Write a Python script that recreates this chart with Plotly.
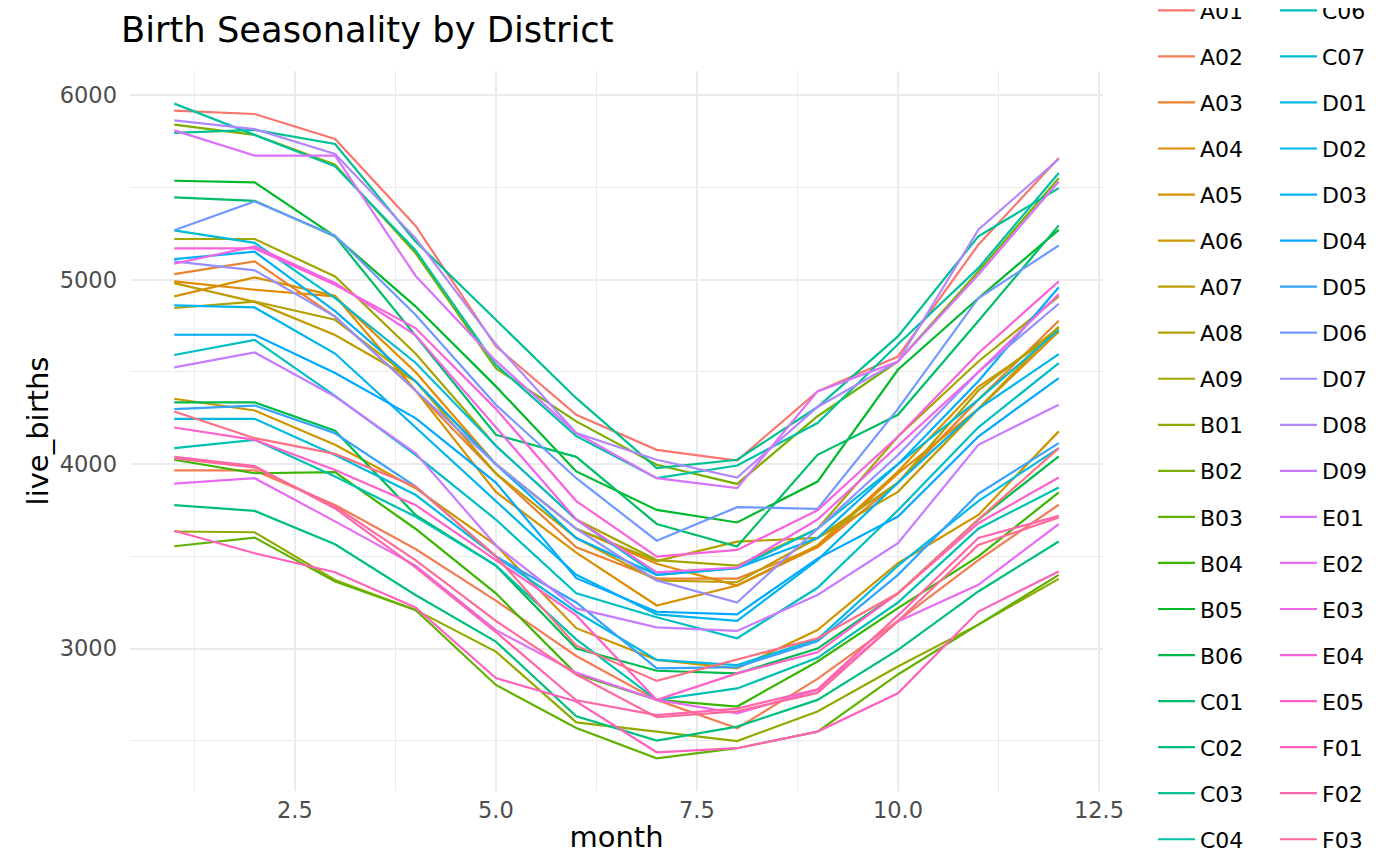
import math
import plotly.graph_objects as go

months = list(range(1, 13))

A01 = [5917, 5899, 5763, 5293, 4639, 4268, 4078, 4020, 4395, 4584, 5190, 5660]
A02 = [3966, 3966, 3779, 3540, 3260, 2960, 2722, 2568, 2836, 3150, 3480, 3780]
A03 = [5031, 5100, 4800, 4400, 3950, 3550, 3380, 3380, 3550, 3900, 4350, 4778]
A04 = [4991, 4946, 4910, 4500, 4000, 3650, 3460, 3342, 3550, 3950, 4300, 4720]
A05 = [4910, 5013, 4913, 4400, 3850, 3520, 3234, 3342, 3560, 3960, 4420, 4716]
A06 = [4355, 4291, 4105, 3870, 3560, 3111, 2939, 2893, 3101, 3463, 3725, 4178]
A07 = [4982, 4880, 4700, 4450, 3950, 3600, 3370, 3360, 3600, 3850, 4300, 4747]
A08 = [4847, 4882, 4783, 4450, 4000, 3650, 3475, 3580, 3600, 3900, 4400, 4740]
A09 = [5221, 5221, 5018, 4600, 4100, 3700, 3480, 3450, 3650, 4150, 4557, 4910]
B01 = [3635, 3631, 3372, 3210, 2984, 2600, 2550, 2499, 2659, 2903, 3130, 3378]
B02 = [5841, 5786, 5624, 5145, 4520, 4232, 3997, 3893, 4260, 4557, 5045, 5551]
B03 = [3555, 3602, 3364, 3210, 2803, 2570, 2405, 2460, 2550, 2860, 3130, 3400]
B04 = [4024, 3951, 3957, 3650, 3300, 2862, 2722, 2686, 2930, 3220, 3500, 3847]
B05 = [5537, 5528, 5235, 4856, 4422, 3961, 3752, 3684, 3906, 4512, 4900, 5271]
B06 = [4335, 4335, 4181, 3725, 3450, 3000, 2880, 2866, 3000, 3300, 3700, 4042]
C01 = [5447, 5428, 5235, 4700, 4160, 4040, 3676, 3554, 4051, 4268, 4776, 5295]
C02 = [3778, 3747, 3566, 3291, 3038, 2633, 2501, 2577, 2722, 2993, 3310, 3581]
C03 = [5796, 5813, 5736, 5208, 4783, 4358, 3979, 4024, 4310, 4693, 5235, 5497]
C04 = [5955, 5786, 5615, 5160, 4539, 4152, 3924, 3993, 4223, 4650, 5063, 5579]
C05 = [4087, 4132, 3933, 3716, 3450, 3050, 2722, 2784, 2950, 3250, 3650, 3874]
C06 = [4592, 4674, 4370, 4050, 3700, 3300, 3170, 3056, 3330, 3750, 4200, 4548]
C07 = [5268, 5200, 4900, 4550, 4100, 3700, 3400, 3436, 3650, 4000, 4350, 4729]
D01 = [4246, 4246, 4050, 3834, 3500, 3200, 2939, 2911, 3050, 3450, 3800, 4087]
D02 = [4861, 4850, 4600, 4200, 3800, 3400, 3186, 3150, 3480, 3900, 4300, 4597]
D03 = [5112, 5152, 4830, 4450, 4000, 3600, 3400, 3436, 3600, 4000, 4450, 4959]
D04 = [4702, 4702, 4494, 4250, 3900, 3382, 3200, 3186, 3488, 3716, 4150, 4467]
D05 = [4299, 4318, 4168, 3880, 3500, 3250, 2893, 2900, 3040, 3400, 3840, 4114]
D06 = [5268, 5425, 5239, 4810, 4322, 3924, 3585, 3767, 3758, 4300, 4900, 5186]
D07 = [5100, 5051, 4800, 4400, 4000, 3650, 3370, 3250, 3650, 4050, 4500, 4870]
D08 = [5864, 5817, 5682, 5226, 4650, 4169, 4024, 3928, 4310, 4557, 5271, 5655]
D09 = [4525, 4606, 4367, 4060, 3560, 3218, 3115, 3096, 3291, 3572, 4105, 4322]
E01 = [5810, 5673, 5673, 5022, 4560, 4169, 3924, 3870, 4395, 4557, 5027, 5533]
E02 = [3895, 3924, 3690, 3450, 3100, 2870, 2722, 2649, 2775, 3147, 3346, 3675]
E03 = [5087, 5181, 4982, 4700, 4200, 3700, 3413, 3440, 3700, 4100, 4500, 4922]
E04 = [5170, 5170, 4973, 4738, 4300, 3800, 3499, 3535, 3750, 4150, 4602, 4991]
E05 = [4199, 4132, 3969, 3779, 3480, 3180, 2722, 2866, 2980, 3300, 3680, 3928]
F01 = [3639, 3517, 3414, 3223, 2840, 2713, 2438, 2460, 2550, 2758, 3201, 3418]
F02 = [4040, 3990, 3760, 3440, 3090, 2720, 2640, 2675, 2780, 3180, 3600, 3720]
F03 = [4031, 3983, 3771, 3480, 3150, 2860, 2628, 2660, 2760, 3150, 3562, 3711]
F04 = [4286, 4141, 4056, 3879, 3500, 3016, 2825, 2939, 3056, 3300, 3700, 4087]

districts = ["A01", "A02", "A03", "A04", "A05", "A06", "A07", "A08", "A09",
             "B01", "B02", "B03", "B04", "B05", "B06",
             "C01", "C02", "C03", "C04", "C05", "C06", "C07",
             "D01", "D02", "D03", "D04", "D05", "D06", "D07", "D08", "D09",
             "E01", "E02", "E03", "E04", "E05",
             "F01", "F02", "F03", "F04"]
births = [A01, A02, A03, A04, A05, A06, A07, A08, A09,
          B01, B02, B03, B04, B05, B06,
          C01, C02, C03, C04, C05, C06, C07,
          D01, D02, D03, D04, D05, D06, D07, D08, D09,
          E01, E02, E03, E04, E05,
          F01, F02, F03, F04]


def hcl_hex(h, c=100.0, l=65.0):
    # same polar-Luv -> sRGB conversion R's hcl() does (ggplot hue palette)
    hr = math.radians(h)
    u = c * math.cos(hr)
    v = c * math.sin(hr)
    Y = 100.0 * ((l + 16.0) / 116.0) ** 3
    t = 0.1978398 + u / (13.0 * l)
    s = 0.4683363 + v / (13.0 * l)
    X = 9.0 * Y * t / (4.0 * s)
    Z = -X / 3.0 - 5.0 * Y + 3.0 * Y / s

    def gam(x):
        x = 1.055 * x ** (1 / 2.4) - 0.055 if x > 0.00304 else 12.92 * x
        return min(max(x, 0.0), 1.0)

    r = gam((3.240479 * X - 1.537150 * Y - 0.498535 * Z) / 100.0)
    g = gam((-0.969256 * X + 1.875992 * Y + 0.041556 * Z) / 100.0)
    b = gam((0.055648 * X - 0.204043 * Y + 1.057311 * Z) / 100.0)
    return "#%02X%02X%02X" % (round(r * 255), round(g * 255), round(b * 255))


n = len(districts)
colors = [hcl_hex(15 + i * 360.0 / n) for i in range(n)]

fig = go.Figure()
half = n // 2
for i, (name, vals) in enumerate(zip(districts, births)):
    fig.add_trace(go.Scatter(
        x=months,
        y=vals,
        mode="lines",
        name=name,
        line=dict(color=colors[i], width=2.2),
        legend="legend" if i < half else "legend2",
        legendgroup=name,
    ))

font = "DejaVu Sans"
grid = "#EBEBEB"
# legend is taller than the page (like ggplot's centred legend), so the
# first and last rows spill over the top and bottom edges
leg = dict(
    xref="container", yref="paper", y=1.1131, yanchor="top", maxheight=1000,
    font=dict(family=font, size=22, color="black"),
    bgcolor="rgba(0,0,0,0)", tracegroupgap=14.45, itemwidth=37,
)

fig.update_layout(
    width=1400, height=866,
    paper_bgcolor="white", plot_bgcolor="white",
    margin=dict(l=122, r=305, t=63, b=83),
    font=dict(family=font, color="black"),
    title=dict(text="Birth Seasonality by District", x=113 / 1400, xref="container", xanchor="left",
               y=1 - 22 / 866, yref="container", yanchor="middle",
               font=dict(family=font, size=35.3, color="black")),
    legend=dict(leg, x=1145 / 1400, xanchor="left"),
    legend2=dict(leg, x=1267 / 1400, xanchor="left"),
)
fig.update_xaxes(
    range=[0.45, 12.55], tick0=0, dtick=2.5, tickformat=".1f",
    showgrid=True, gridcolor=grid, gridwidth=2.2, zeroline=False, showline=False,
    ticks="", ticklabelstandoff=3,
    tickfont=dict(family=font, size=22.5, color="#4D4D4D"),
    minor=dict(tick0=0, dtick=1.25, showgrid=True, gridcolor=grid, gridwidth=1.1),
    title=dict(text="month", standoff=5, font=dict(family=font, size=29, color="black")),
)
fig.update_yaxes(
    range=[2228, 6132], tick0=0, dtick=1000, tickformat="d",
    showgrid=True, gridcolor=grid, gridwidth=2.2, zeroline=False, showline=False,
    ticks="", ticklabelstandoff=12,
    tickfont=dict(family=font, size=22.5, color="#4D4D4D"),
    minor=dict(tick0=0, dtick=500, showgrid=True, gridcolor=grid, gridwidth=1.1),
    title=dict(text="live_births", standoff=2, font=dict(family=font, size=29, color="black")),
)

fig.write_html("out.html")
